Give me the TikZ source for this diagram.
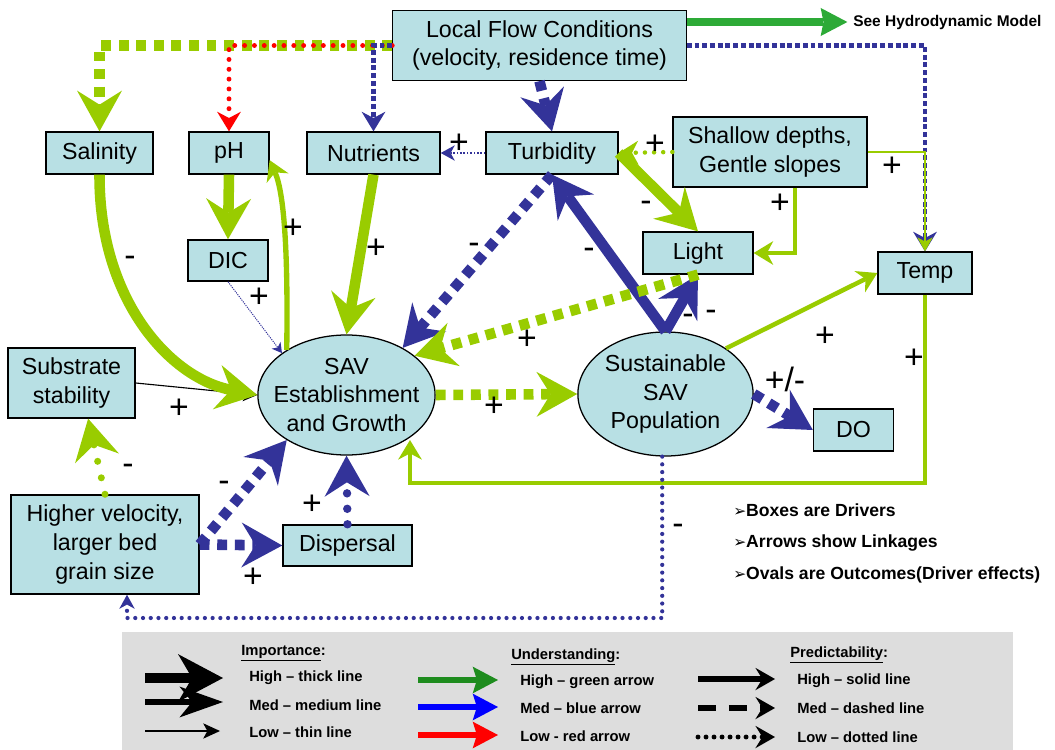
\documentclass[tikz,border=0pt]{standalone}
\usepackage{fontspec}
\setmainfont{Liberation Sans}
\newfontfamily\dingfont{DejaVu Sans}
\usetikzlibrary{arrows.meta,shapes.geometric,calc}

\definecolor{boxfill}{RGB}{184,224,228}
\definecolor{savgreen}{RGB}{153,204,0}
\definecolor{savblue}{RGB}{51,51,153}
\definecolor{hydgreen}{RGB}{45,170,55}
\definecolor{keygreen}{RGB}{30,140,30}
\definecolor{keygray}{RGB}{221,221,221}

\tikzset{
  box/.style={draw, line width=0.9pt, fill=boxfill, inner sep=0pt, align=center,
    font=\fontsize{16.5}{20.6}\selectfont},
  oval/.style={draw, line width=0.9pt, fill=boxfill, ellipse, inner sep=0pt},
  ovaltxt/.style={align=center, inner sep=0pt, font=\fontsize{16.5}{20.6}\selectfont},
  sgn/.style={font=\fontsize{24}{24}\selectfont, inner sep=0pt, text height=16pt, text depth=0pt},
  hi/.style={line width=7.5pt},
  md/.style={line width=3.2pt},
  sq/.style={dash pattern=on 7pt off 5.5pt},
  dotline/.style={line cap=round, dash pattern=on 0pt off #1},
  bigtip/.style={-{Stealth[length=29pt,width=32pt,inset=10pt,line width=0pt]}},
  midtip/.style={-{Stealth[length=14pt,width=17pt,inset=4.5pt,line width=0pt]}},
  smalltip/.style={-{Stealth[length=10pt,width=11pt,inset=3pt,line width=0pt]}},
  tinytip/.style={-{Stealth[length=7pt,width=8pt,inset=2pt,line width=0pt]}},
  keytxt/.style={font=\fontsize{10.5}{12}\selectfont\bfseries, anchor=west, inner sep=0pt},
  bullet/.style={font=\fontsize{12.5}{14}\selectfont\bfseries, anchor=west, inner sep=0pt},
}

\begin{document}
\begin{tikzpicture}[x=0.025cm, y=-0.025cm]
\useasboundingbox (0,0) rectangle (1055,750);

% drivers
\node[box, minimum width=7.33cm, minimum height=1.75cm] (lfc) at (539.5,45.5) {Local Flow Conditions\\(velocity, residence time)};
\node[box, minimum width=2.68cm, minimum height=1.05cm] (sal) at (99.5,153) {Salinity};
\node[box, minimum width=2cm, minimum height=1.05cm] (ph) at (229,153) {pH};
\node[box, minimum width=3.33cm, minimum height=1.05cm] (nut) at (373.5,153) {Nutrients};
\node[box, minimum width=3.3cm, minimum height=1.05cm] (tur) at (552,153) {Turbidity};
\node[box, minimum width=4.85cm, minimum height=1.75cm] (sha) at (770,152) {Shallow depths,\\Gentle slopes};
\node[box, minimum width=2cm, minimum height=1.03cm] (dic) at (228,260.5) {DIC};
\node[box, minimum width=2.75cm, minimum height=1.05cm] (lig) at (698,253) {Light};
\node[box, minimum width=2.35cm, minimum height=1.05cm] (temp) at (925,273) {Temp};
\node[box, minimum width=3.18cm, minimum height=1.75cm] (sub) at (71.5,383) {Substrate\\stability};
\node[box, minimum width=2cm, minimum height=1.05cm] (do) at (853.5,430) {DO};
\node[box, minimum width=4.7cm, minimum height=2.48cm] (hv) at (105,544.5) {Higher velocity,\\larger bed\\grain size};
\node[box, minimum width=3.23cm, minimum height=1.03cm] (dis) at (347.5,545.5) {Dispersal};

% outcomes
\node[oval, minimum width=4.43cm, minimum height=3cm] (savE) at (346.5,395) {};
\node[ovaltxt] (savEt) at (savE) {SAV\\Establishment\\and Growth};
\node[oval, minimum width=4.38cm, minimum height=3.1cm] (savP) at (665.5,394) {};
\node[ovaltxt] (savPt) at (savP) {Sustainable\\SAV\\Population};

\node[anchor=west, inner sep=0pt, font=\fontsize{11}{13}\selectfont\bfseries] (hydro) at (853,22) {See Hydrodynamic Model};
\coordinate (tcorner) at (410,483);
\coordinate (bcorner) at (127,618);

% linkages from the flow conditions
\draw[savgreen, hi, sq, bigtip] (lfc.west) -| (sal.north);
\draw[red, line width=3.5pt, dotline=7pt, midtip] (lfc.west) -| (ph.north);
\draw[savblue, line width=3.3pt, dash pattern=on 3.5pt off 2pt, midtip] (lfc.west) -| (nut.north);
\draw[savblue, hi, sq, bigtip] (lfc.south) -- (tur.north);
\draw[savblue, line width=3.3pt, dash pattern=on 3.5pt off 2pt, midtip] (lfc.east) -| (temp.north);
\draw[savgreen, line width=1.5pt, smalltip] (sha.east) -| (temp.north);
\draw[hydgreen, line width=5.5pt, -{Stealth[length=19pt,width=20pt,inset=2pt,line width=0pt]}, shorten >=4pt] (lfc.north east |- hydro) -- (hydro.west);

\draw[savblue, line width=1.3pt, dash pattern=on 1.2pt off 1.2pt, smalltip] (tur.west) -- (nut.east);
\draw[savgreen, line width=3.2pt, dotline=6.5pt, midtip] (sha.west) -- (tur.east);
\draw[savgreen, hi, bigtip] (tur.east) -- (lig.north);
\draw[savgreen, md, midtip] ($(sha.south)+(25,0)$) |- (lig.east);

% into SAV establishment
\draw[line width=0.8pt, smalltip] (sub.east) -- (savE.west);
\draw[savgreen, hi, bigtip] (sal.south) .. controls (99,300) and (170,378) .. (savE.west);
\draw[savgreen, hi, bigtip] (ph.south) -- (dic.north);
\draw[savblue, line width=0.7pt, dash pattern=on 0.8pt off 0.8pt, tinytip] (dic.south) -- (savE.147);
\draw[savgreen, line width=3.8pt, midtip] (savE.143) .. controls (288,260) and (285,195) .. (ph.-10);
\draw[savgreen, hi, bigtip] (nut.south) -- (savE.north);
\draw[savblue, hi, bigtip] (savP.north) -- (tur.south);
\draw[savblue, hi, bigtip] (savP.north) -- (lig.south);
\draw[savblue, hi, sq, bigtip] (tur.south) -- (savE.40);
\draw[savgreen, hi, sq, bigtip] (lig.south) -- (savE.30);
\draw[savgreen, hi, sq, bigtip] (savE.east) -- (savP.west);
\draw[savgreen, md, midtip] (savP.37) -- (temp.west);
\draw[savgreen, md, midtip] (temp.south) |- (tcorner) -- (tcorner |- savE.-37);
\draw[savblue, hi, sq, bigtip] (savP.east) -- (do.west);
\draw[savblue, line width=3pt, dotline=5.5pt, smalltip] (savP.-93) |- (bcorner) -- (bcorner |- hv.south);
\draw[savgreen, line width=5pt, dotline=12pt, bigtip] (hv.north) -- (sub.-65);
\draw[savblue, hi, sq, bigtip] (hv.east) -- (savE.-143);
\draw[savblue, hi, sq, bigtip] (hv.east) -- (dis.west);
\draw[savblue, line width=6pt, dotline=11pt, bigtip] (dis.north) -- (savE.south);

% signs
\foreach \p [count=\i] in {(293,227),(376,247),(259,296),(459,142),(655,143),(892,165),(780,202),
    (527,338),(825,335),(914,357),(179,407),(312,503),(253,576),(494,405)}
  \node[sgn] (plus\i) at \p {+};
\foreach \p [count=\i] in {(130,255),(474,242),(589,247),(646,200),(688,313),(711,309),
    (128,463),(224,480),(678,523)}
  \node[sgn] (minus\i) at \p {-};
\node[sgn] (pm) at (785,380) {+/-};

% notes
\node[bullet] (b1) at (733,510) {{\dingfont\fontsize{11}{13}\selectfont ➢}Boxes are Drivers};
\node[bullet] (b2) at (733,543) {{\dingfont\fontsize{11}{13}\selectfont ➢}Arrows show Linkages};
\node[bullet] (b3) at (733,575) {{\dingfont\fontsize{11}{13}\selectfont ➢}Ovals are Outcomes(Driver effects)};

% key
\fill[keygray] (122,632) rectangle (1013,750);
\node[keytxt] (imp) at (241,653) {\underline{Importance}:};
\node[keytxt] (imp1) at (249,678) {High – thick line};
\node[keytxt] (imp2) at (249,705) {Med – medium line};
\node[keytxt] (imp3) at (249,732) {Low – thin line};
\draw[line width=7pt, -{Stealth[length=32pt,width=34pt,inset=10pt,line width=0pt]}] (145,678) -- (223,678);
\draw[line width=4.7pt, -{Stealth[length=31pt,width=22pt,inset=9pt,line width=0pt]}] (145,702) -- (223,702);
\draw[line width=1pt, -{Stealth[length=12pt,width=11pt,inset=3pt,line width=0pt]}] (145,731) -- (220,731);

\node[keytxt] (und) at (511,657) {\underline{Understanding}:};
\node[keytxt] (und1) at (520,682) {High – green arrow};
\node[keytxt] (und2) at (520,708) {Med – blue arrow};
\node[keytxt] (und3) at (520,736) {Low - red arrow};
\draw[keygreen, line width=4pt, -{Stealth[length=18pt,width=19pt,inset=3pt,line width=0pt]}] (418,680) -- (498,680);
\draw[blue, line width=4pt, -{Stealth[length=18pt,width=19pt,inset=3pt,line width=0pt]}] (418,707) -- (498,707);
\draw[red, line width=4pt, -{Stealth[length=18pt,width=19pt,inset=3pt,line width=0pt]}] (418,735) -- (498,735);

\node[keytxt] (pre) at (790,655) {\underline{Predictability}:};
\node[keytxt] (pre1) at (797,681) {High – solid line};
\node[keytxt] (pre2) at (797,708) {Med – dashed line};
\node[keytxt] (pre3) at (797,737) {Low – dotted line};
\draw[line width=4pt, -{Stealth[length=14pt,width=16pt,inset=5pt,line width=0pt]}] (698,679) -- (775,679);
\draw[line width=4.5pt, dash pattern=on 13pt off 9pt, -{Stealth[length=14pt,width=16pt,inset=5pt,line width=0pt]}] (698,708) -- (775,708);
\draw[line width=3.5pt, dotline=5.7pt, -{Stealth[length=14pt,width=16pt,inset=5pt,line width=0pt]}] (698,737) -- (775,737);
\end{tikzpicture}
\end{document}
